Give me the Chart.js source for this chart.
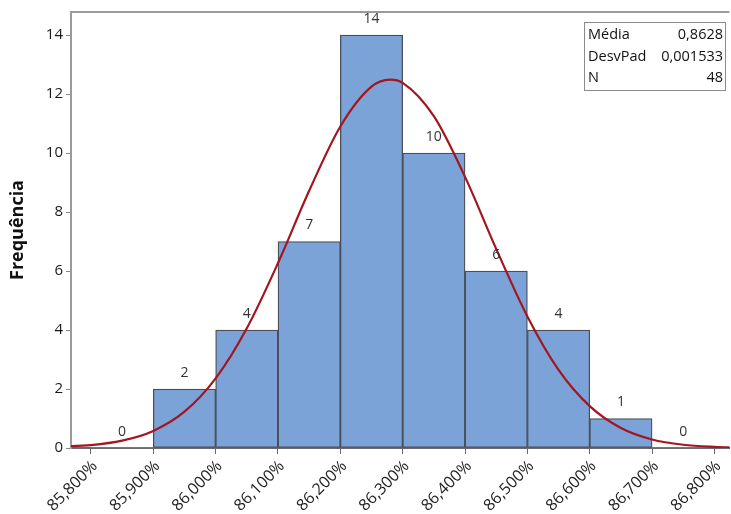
<!DOCTYPE html>
<html>
<head>
<meta charset="utf-8">
<script src="https://cdn.jsdelivr.net/npm/chart.js@4"></script>
<style>
  html, body { margin: 0; padding: 0; background: #fff; }
  #wrap { width: 731px; height: 514px; }
</style>
</head>
<body>
<div id="wrap"><canvas id="c" width="731" height="514"></canvas></div>
<script>
// Histogram bins (percent) and counts
const binCenters = [85.85, 85.95, 86.05, 86.15, 86.25, 86.35, 86.45, 86.55, 86.65, 86.75];
const binCounts  = [0, 2, 4, 7, 14, 10, 6, 4, 1, 0];

// Fitted normal curve, sampled along the x axis
const curveX = [85.75, 85.80, 85.85, 85.90, 85.95, 86.00, 86.05, 86.10, 86.15, 86.20, 86.25, 86.28, 86.30, 86.35, 86.40, 86.45, 86.50, 86.55, 86.60, 86.65, 86.70, 86.75, 86.80, 86.85];
const curveY = [0.05, 0.10, 0.25, 0.58, 1.23, 2.36, 4.06, 6.27, 8.72, 10.90, 12.25, 12.49, 12.38, 11.25, 9.19, 6.75, 4.46, 2.65, 1.42, 0.68, 0.29, 0.11, 0.04, 0.01];

// Axis ticks
const xTickValues = [85.8, 85.9, 86.0, 86.1, 86.2, 86.3, 86.4, 86.5, 86.6, 86.7, 86.8];
const xTickLabels = ['85,800%', '85,900%', '86,000%', '86,100%', '86,200%', '86,300%', '86,400%', '86,500%', '86,600%', '86,700%', '86,800%'];
const yTickValues = [0, 2, 4, 6, 8, 10, 12, 14];

// Summary statistics box
const statNames  = ['Média', 'DesvPad', 'N'];
const statValues = ['0,8628', '0,001533', '48'];

const FONT = '"Open Sans", "Noto Sans", sans-serif';

const barLabels = {
  id: 'barLabels',
  afterDatasetsDraw(chart) {
    const { ctx, scales: { x, y } } = chart;
    ctx.save();
    ctx.font = '14px ' + FONT;
    ctx.fillStyle = '#333';
    ctx.textAlign = 'center';
    ctx.textBaseline = 'middle';
    binCenters.forEach((c, i) => {
      ctx.fillText(String(binCounts[i]), x.getPixelForValue(c), y.getPixelForValue(binCounts[i]) - 16);
    });
    ctx.restore();
  }
};

const frameAndStats = {
  id: 'frameAndStats',
  afterDraw(chart) {
    const { ctx, chartArea: a } = chart;
    ctx.save();
    // top frame line
    ctx.strokeStyle = '#9a9a9a';
    ctx.lineWidth = 2;
    ctx.beginPath();
    ctx.moveTo(a.left, a.top);
    ctx.lineTo(a.right, a.top);
    ctx.stroke();
    // stats box
    const bx = 584.5, by = 22.5, bw = 141, bh = 68;
    ctx.fillStyle = '#fff';
    ctx.fillRect(bx, by, bw, bh);
    ctx.lineWidth = 1;
    ctx.strokeStyle = '#8a8a8a';
    ctx.strokeRect(bx, by, bw, bh);
    ctx.font = '14.5px ' + FONT;
    ctx.fillStyle = '#111';
    ctx.textBaseline = 'middle';
    statNames.forEach((n, i) => {
      const ty = 35 + i * 21.5;
      ctx.textAlign = 'left';
      ctx.fillText(n, 588, ty);
      ctx.textAlign = 'right';
      ctx.fillText(statValues[i], 723, ty);
    });
    ctx.restore();
  }
};

new Chart(document.getElementById('c'), {
  data: {
    datasets: [
      {
        type: 'line',
        data: curveX.map((v, i) => ({ x: v, y: curveY[i] })),
        borderColor: '#a3161f',
        borderWidth: 2.2,
        pointRadius: 0,
        tension: 0.4,
        cubicInterpolationMode: 'monotone',
        fill: false,
        clip: 0,
        order: 0
      },
      {
        type: 'bar',
        data: binCenters.map((v, i) => ({ x: v, y: binCounts[i] })),
        backgroundColor: '#7ba3d8',
        borderColor: '#4a4f57',
        borderWidth: ctx => (ctx.raw && ctx.raw.y > 0 ? 1.3 : 0),
        borderSkipped: false,
        barPercentage: 1,
        categoryPercentage: 1,
        order: 1
      }
    ]
  },
  options: {
    responsive: false,
    animation: false,
    layout: { padding: { top: 12, left: 0, right: 0, bottom: 0 } },
    plugins: { legend: { display: false }, tooltip: { enabled: false } },
    scales: {
      x: {
        type: 'linear',
        offset: false,
        min: 85.768,
        max: 86.824,
        afterBuildTicks(scale) { scale.ticks = xTickValues.map(v => ({ value: v })); },
        afterFit(scale) { scale.height = 66; },
        ticks: {
          autoSkip: false,
          maxRotation: 45,
          minRotation: 45,
          padding: 3,
          labelOffset: 4,
          color: '#222',
          font: { family: FONT, size: 16 },
          callback: (v, i) => xTickLabels[i]
        },
        grid: { offset: false, drawOnChartArea: false, tickLength: 6, color: '#6a6a6a', lineWidth: 1 },
        border: { color: '#6a6a6a', width: 2 }
      },
      y: {
        min: 0,
        max: 14.78,
        afterBuildTicks(scale) { scale.ticks = yTickValues.map(v => ({ value: v })); },
        afterFit(scale) { scale.width = 71; },
        ticks: {
          padding: 3,
          color: '#1a1a1a',
          font: { family: FONT, size: 15 }
        },
        grid: { drawOnChartArea: false, tickLength: 5, color: '#8a8a8a', lineWidth: 1 },
        border: { color: '#9a9a9a', width: 2 },
        title: {
          display: true,
          text: 'Frequência',
          color: '#111',
          font: { family: FONT, size: 18, weight: 'bold' },
          padding: { top: 7, bottom: 0 }
        }
      }
    }
  },
  plugins: [barLabels, frameAndStats]
});
</script>
</body>
</html>
